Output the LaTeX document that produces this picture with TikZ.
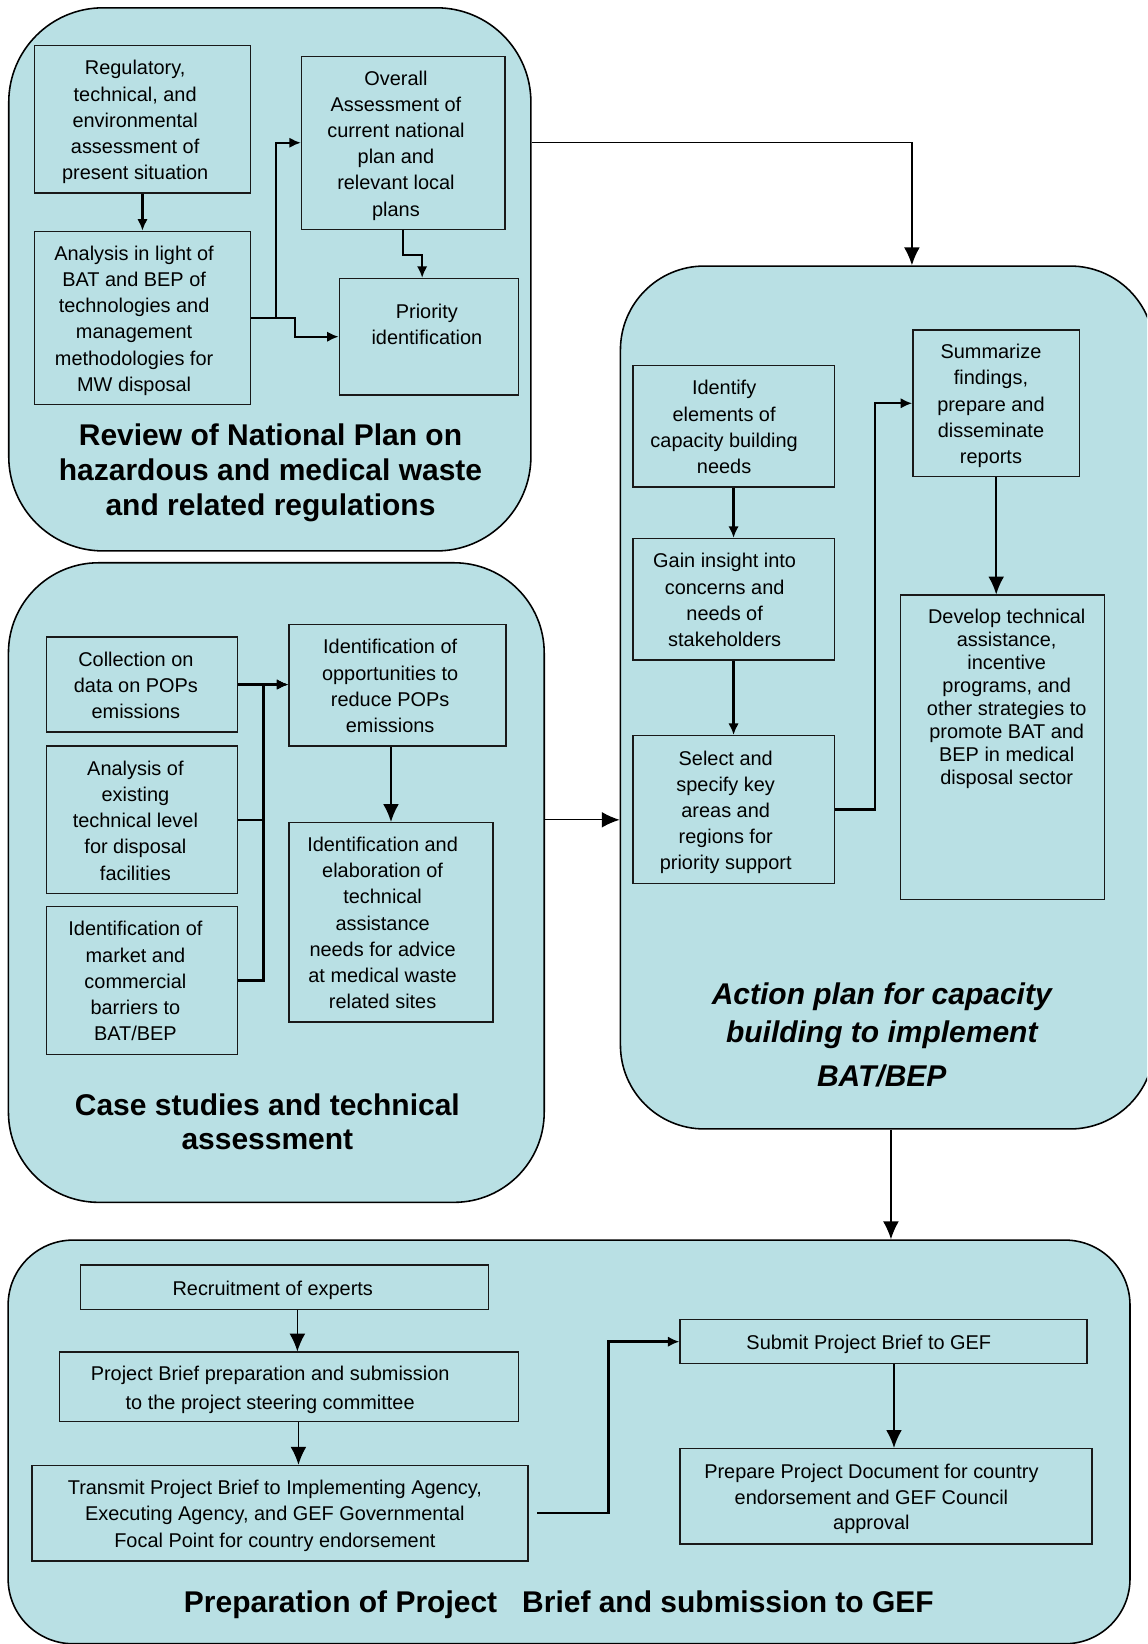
\documentclass[tikz,border=0pt]{standalone}
\usepackage{fontspec}
\setmainfont{Liberation Sans}
\usetikzlibrary{positioning, arrows.meta, calc}
\definecolor{paneblue}{RGB}{185,224,228}
% box text, set a little left of and below the box centre as in the original
\newcommand{\boxtext}[2][14pt]{\raisebox{0pt}[\height][\dimexpr\depth-5pt\relax]{\begin{tabular}{@{}c@{}}#2\end{tabular}}\hspace*{#1}}

\begin{document}
\begin{tikzpicture}[x=1pt, y=-1pt]

          % Setup the styles for the panels, boxes and arrows
          \tikzset{panel style/.style={draw=black,
                                       line width=1.5pt,
                                       fill=paneblue,
                                       anchor=north west,
                                       inner sep=0pt},
                   box style/.style={draw=black!90,
                                     line width=1.3pt,
                                     fill=paneblue,
                                     anchor=north west,
                                     inner sep=2pt,
                                     font=\fontsize{19}{25}\selectfont},
                   title style/.style={align=center,
                                       font=\fontsize{28.6}{33}\selectfont\bfseries},
                   flow/.style={line width=2.2pt, -{Latex[length=11pt, width=10pt]}},
                   bigflow/.style={line width=1.6pt, -{Latex[length=17pt, width=15pt]}},
                   link/.style={line width=1.3pt, -{Latex[length=17pt, width=15pt]}}}
          \path[use as bounding box, clip] (0, 0) rectangle (1094, 1568);

          % Draw the panels
          \node[panel style, minimum width=498pt, minimum height=518pt, rounded corners=90pt] at (7.6, 6.7) (review) {};
          \node[panel style, minimum width=511pt, minimum height=610pt, rounded corners=86pt] at (7.3, 536) (cases) {};
          \node[panel style, minimum width=509pt, minimum height=823pt, rounded corners=80pt] at (591, 253) (action) {};
          \node[panel style, minimum width=1070pt, minimum height=385pt, rounded corners=62pt] at (7, 1182) (prep) {};

          % Review of the national plan
          \node[box style, minimum width=206.5pt, minimum height=140.5pt] at (32, 43) (reg) {\boxtext{Regulatory,\\technical, and\\environmental\\assessment of\\present situation}};
          \node[box style, minimum width=206.5pt, minimum height=165pt] at (32, 220) (ana) {\boxtext[16pt]{Analysis in light of\\BAT and BEP of\\technologies and\\management\\methodologies for\\MW disposal}};
          \node[box style, minimum width=194pt, minimum height=165pt] at (287, 53) (over) {\boxtext{Overall\\Assessment of\\current national\\plan and\\relevant local\\plans}};
          \node[box style, minimum width=171pt, minimum height=111pt] at (323, 265) (prio) {\boxtext[4pt]{Priority\\identification\\\strut}};
          \node[title style] at (258, 451) (reviewtitle) {Review of National Plan on\\hazardous and medical waste\\and related regulations};

          % Case studies
          \node[box style, minimum width=182pt, minimum height=90.5pt] at (44, 607) (coll) {\boxtext[12pt]{Collection on\\data on POPs\\emissions}};
          \node[box style, minimum width=182pt, minimum height=140.5pt] at (44, 711) (exist) {\boxtext[13pt]{Analysis of\\existing\\technical level\\for disposal\\facilities}};
          \node[box style, minimum width=182pt, minimum height=141pt] at (44, 864) (market) {\boxtext[13pt]{Identification of\\market and\\commercial\\barriers to\\BAT/BEP}};
          \node[box style, minimum width=207pt, minimum height=116pt] at (275, 595) (opp) {\boxtext{Identification of\\opportunities to\\reduce POPs\\emissions}};
          \node[box style, minimum width=194.5pt, minimum height=190pt] at (275, 784) (elab) {\boxtext[16pt]{Identification and\\elaboration of\\technical\\assistance\\needs for advice\\at medical waste\\related sites}};
          \node[title style] at (255, 1070) (casestitle) {Case studies and technical\\assessment};

          % Action plan
          \node[box style, minimum width=192pt, minimum height=116pt] at (603, 348) (ident) {\boxtext[18pt]{Identify\\elements of\\capacity building\\needs}};
          \node[box style, minimum width=192pt, minimum height=116pt] at (603, 513) (gain) {\boxtext[17pt]{Gain insight into\\concerns and\\needs of\\stakeholders}};
          \node[box style, minimum width=192pt, minimum height=141pt] at (603, 701) (sel) {\boxtext[15pt]{Select and\\specify key\\areas and\\regions for\\priority support}};
          \node[box style, minimum width=159pt, minimum height=140pt] at (870, 314) (summ) {\boxtext[10pt]{Summarize\\findings,\\prepare and\\disseminate\\reports}};
          \node[box style, minimum width=195pt, minimum height=290pt, font=\fontsize{19}{22}\selectfont] at (858, 567) (dev) {\boxtext[-8pt]{Develop technical\\assistance,\\incentive\\programs, and\\other strategies to\\promote BAT and\\BEP in medical\\disposal sector\\[74pt]\strut}};
          \node[title style, font=\fontsize{28.6}{36}\selectfont\bfseries\itshape] at (841, 987) (actiontitle) {Action plan for capacity\\building to implement\\[6pt]BAT/BEP};

          % Project brief
          \node[box style, minimum width=389pt, minimum height=42pt] at (76, 1206) (recr) {\boxtext[22pt]{Recruitment of experts}};
          \node[box style, minimum width=438pt, minimum height=66pt, font=\fontsize{19}{27}\selectfont] at (56, 1289) (pb) {\boxtext[36pt]{Project Brief preparation and submission\\to the project steering committee}};
          \node[box style, minimum width=473pt, minimum height=91pt] at (30, 1397) (trans) {\boxtext[10pt]{Transmit Project Brief to Implementing Agency,\\Executing Agency, and GEF Governmental\\Focal Point for country endorsement}};
          \node[box style, minimum width=388pt, minimum height=42pt] at (648, 1258) (subm) {\boxtext[28pt]{Submit Project Brief to GEF}};
          \node[box style, minimum width=393pt, minimum height=91pt, font=\fontsize{19}{24.5}\selectfont] at (648, 1381) (prepdoc) {\boxtext[28pt]{Prepare Project Document for country\\endorsement and GEF Council\\approval}};
          \node[title style] at (533, 1531) (preptitle) {Preparation of Project\ \ \ Brief and submission to GEF};

          % Connect the boxes with arrows
          \draw[flow] (reg) -- (ana);
          \draw[flow] (ana.east) -- ++(23.5, 0) |- (over.west);
          \draw[flow] (ana.east) -- ++(41.5, 0) |- (prio.west);
          \draw[flow] (over.south) -- ++(0, 24) -| ([xshift=-6.5pt]prio.north);

          \draw[flow] (coll.east) -- (coll.east -| opp.west);
          \draw[flow] (exist.east) -- ++(24, 0) |- (coll.east -| opp.west);
          \draw[flow] (market.east) -- ++(24, 0) |- (coll.east -| opp.west);
          \draw[bigflow] (elab.north |- opp.south) -- (elab.north);

          \draw[flow] (ident) -- (gain);
          \draw[flow] (gain) -- (sel);
          \draw[flow] (sel.east) -- ++(38, 0) |- (summ.west);
          \draw[bigflow] (summ.south) -- (summ.south |- dev.north);

          \draw[link] ([xshift=12.5pt]recr.south) -- ([xshift=12.5pt]recr.south |- pb.north);
          \draw[link] ([xshift=9pt]pb.south) -- ([xshift=9pt]pb.south |- trans.north);
          \draw[flow, line width=2.6pt] ([xshift=8pt]trans.east) -- ++(68, 0) |- (subm.west);
          \draw[bigflow] ([xshift=10pt]subm.south) -- ([xshift=10pt]subm.south |- prepdoc.north);

          % Connect the panels
          \draw[link] (over.east -| review.east) -| ([xshift=23.5pt]action.north);
          \draw[link] (exist.east -| cases.east) -- (exist.east -| action.west);
          \draw[link] ([xshift=3.5pt]action.south) -- ([xshift=3.5pt]action.south |- prep.north);
\end{tikzpicture}
\end{document}
